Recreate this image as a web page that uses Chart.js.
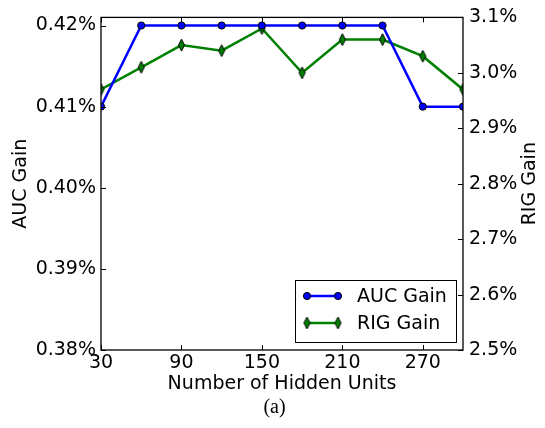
<!DOCTYPE html>
<html>
<head>
<meta charset="utf-8">
<script src="https://cdn.jsdelivr.net/npm/chart.js@4"></script>
<style>
html, body { margin: 0; padding: 0; background: #fff; }
#wrap { position: relative; width: 545px; height: 428px; }
#cap { position: absolute; left: 2px; width: 545px; top: 395px; text-align: center;
       font-family: "Liberation Serif", "DejaVu Serif", serif; font-size: 20px; color: #000; }
</style>
</head>
<body>
<div id="wrap">
  <canvas id="c" width="545" height="428"></canvas>
  <div id="cap">(a)</div>
</div>
<script>
// Hidden-unit sweep and the resulting gains (in %)
const hiddenUnits = [30, 60, 90, 120, 150, 180, 210, 240, 270, 300];
const aucGain = [0.41, 0.42, 0.42, 0.42, 0.42, 0.42, 0.42, 0.42, 0.41, 0.41];
const rigGain = [2.97, 3.01, 3.05, 3.04, 3.08, 3.00, 3.06, 3.06, 3.03, 2.97];

// Axis tick values
const xTicks = [30, 90, 150, 210, 270];
const aucTicks = [0.38, 0.39, 0.40, 0.41, 0.42];
const rigTicks = [2.5, 2.6, 2.7, 2.8, 2.9, 3.0, 3.1];

const FONT = { family: '"DejaVu Sans", sans-serif', size: 19 };
const BLUE = '#0000ff';
const GREEN = '#008000';

// Thin diamond marker
function makeDiamond() {
  const w = 9, h = 14;
  const cv = document.createElement('canvas');
  cv.width = w; cv.height = h;
  const g = cv.getContext('2d');
  g.beginPath();
  g.moveTo(w / 2, 1);
  g.lineTo(w - 1.5, h / 2);
  g.lineTo(w / 2, h - 1);
  g.lineTo(1.5, h / 2);
  g.closePath();
  g.fillStyle = GREEN;
  g.fill();
  g.lineWidth = 1;
  g.strokeStyle = '#000';
  g.stroke();
  return cv;
}
const diamond = makeDiamond();

function drawCircle(ctx, x, y) {
  ctx.beginPath();
  ctx.arc(x, y, 3.6, 0, Math.PI * 2);
  ctx.fillStyle = BLUE;
  ctx.fill();
  ctx.lineWidth = 1;
  ctx.strokeStyle = '#000';
  ctx.stroke();
}

// Frame with inward ticks on all four sides, right-axis title, legend
const framePlugin = {
  id: 'frame',
  afterDatasetsDraw(chart) {
    const { ctx, chartArea: a, scales } = chart;
    const L = 5;
    ctx.save();
    ctx.strokeStyle = '#000';
    ctx.lineWidth = 1.3;
    ctx.strokeRect(a.left, a.top, a.right - a.left, a.bottom - a.top);
    ctx.lineWidth = 1;
    ctx.beginPath();
    xTicks.forEach(v => {
      const px = Math.round(scales.x.getPixelForValue(v)) + 0.5;
      ctx.moveTo(px, a.bottom); ctx.lineTo(px, a.bottom - L);
      ctx.moveTo(px, a.top); ctx.lineTo(px, a.top + L);
    });
    aucTicks.forEach(v => {
      const py = Math.round(scales.y.getPixelForValue(v)) + 0.5;
      ctx.moveTo(a.left, py); ctx.lineTo(a.left + L, py);
    });
    rigTicks.forEach(v => {
      const py = Math.round(scales.y1.getPixelForValue(v)) + 0.5;
      ctx.moveTo(a.right, py); ctx.lineTo(a.right - L, py);
    });
    ctx.stroke();
    ctx.restore();
  },
  afterDraw(chart) {
    const { ctx, chartArea: a } = chart;
    ctx.save();
    ctx.font = `${FONT.size}px ${FONT.family}`;
    ctx.fillStyle = '#000';

    // right axis title, reading upwards
    ctx.save();
    ctx.translate(chart.width - 15, (a.top + a.bottom) / 2);
    ctx.rotate(-Math.PI / 2);
    ctx.textAlign = 'center';
    ctx.textBaseline = 'middle';
    ctx.fillText('RIG Gain', 0, 0);
    ctx.restore();

    // legend box in the lower right corner of the plot
    const bw = 161, bh = 62;
    const bx = a.right - 7 - bw, by = a.bottom - 8 - bh;
    ctx.fillStyle = '#fff';
    ctx.fillRect(bx, by, bw, bh);
    ctx.strokeStyle = '#000';
    ctx.lineWidth = 1;
    ctx.strokeRect(bx + 0.5, by + 0.5, bw, bh);
    const x0 = bx + 12, x1 = bx + 43;
    const rows = [
      { label: 'AUC Gain', color: BLUE, y: by + 16, kind: 'circle' },
      { label: 'RIG Gain', color: GREEN, y: by + 43, kind: 'diamond' }
    ];
    rows.forEach(r => {
      ctx.beginPath();
      ctx.moveTo(x0, r.y); ctx.lineTo(x1, r.y);
      ctx.strokeStyle = r.color;
      ctx.lineWidth = 2.5;
      ctx.stroke();
      [x0, x1].forEach(x => {
        if (r.kind === 'circle') drawCircle(ctx, x, r.y);
        else ctx.drawImage(diamond, x - diamond.width / 2, r.y - diamond.height / 2);
      });
      ctx.fillStyle = '#000';
      ctx.textBaseline = 'middle';
      ctx.textAlign = 'left';
      ctx.fillText(r.label, bx + 62, r.y + 1);
    });
    ctx.restore();
  }
};

new Chart(document.getElementById('c'), {
  type: 'line',
  data: {
    datasets: [
      {
        label: 'AUC Gain',
        data: hiddenUnits.map((u, i) => ({ x: u, y: aucGain[i] })),
        yAxisID: 'y',
        borderColor: BLUE,
        backgroundColor: BLUE,
        borderWidth: 2.5,
        pointStyle: 'circle',
        pointRadius: 3.6,
        pointBorderColor: '#000',
        pointBorderWidth: 1,
        pointBackgroundColor: BLUE,
        tension: 0,
        clip: 0
      },
      {
        label: 'RIG Gain',
        data: hiddenUnits.map((u, i) => ({ x: u, y: rigGain[i] })),
        yAxisID: 'y1',
        borderColor: GREEN,
        backgroundColor: GREEN,
        borderWidth: 2.5,
        pointStyle: diamond,
        pointRadius: 6,
        tension: 0,
        clip: 0
      }
    ]
  },
  options: {
    responsive: false,
    animation: false,
    events: [],
    layout: { padding: { top: 15, bottom: 28, left: 0, right: 0 } },
    plugins: { legend: { display: false }, tooltip: { enabled: false } },
    scales: {
      x: {
        type: 'linear',
        position: 'bottom',
        min: 30,
        max: 300,
        grid: { display: false, drawTicks: false },
        border: { display: false },
        afterBuildTicks: s => { s.ticks = xTicks.map(v => ({ value: v })); },
        afterFit: s => { s.height = 50; },
        ticks: { font: FONT, color: '#000', padding: 2, maxRotation: 0, autoSkip: false },
        title: { display: true, text: 'Number of Hidden Units', font: FONT, color: '#000',
                 padding: { top: 0, bottom: 5 } }
      },
      y: {
        type: 'linear',
        position: 'left',
        min: 0.38,
        max: 0.421,
        grid: { display: false, drawTicks: false },
        border: { display: false },
        afterBuildTicks: s => { s.ticks = aucTicks.map(v => ({ value: v })); },
        afterFit: s => { s.width = 101; },
        ticks: { font: FONT, color: '#000', padding: 5, callback: v => v.toFixed(2) + '%' },
        title: { display: true, text: 'AUC Gain', font: FONT, color: '#000',
                 padding: { top: 10, bottom: 0 } }
      },
      y1: {
        type: 'linear',
        position: 'right',
        min: 2.5,
        max: 3.1,
        grid: { display: false, drawTicks: false },
        border: { display: false },
        afterBuildTicks: s => { s.ticks = rigTicks.map(v => ({ value: v })); },
        afterFit: s => { s.width = 82; },
        ticks: { font: FONT, color: '#000', padding: 6, callback: v => v.toFixed(1) + '%' },
        title: { display: false }
      }
    }
  },
  plugins: [framePlugin]
});
</script>
</body>
</html>
